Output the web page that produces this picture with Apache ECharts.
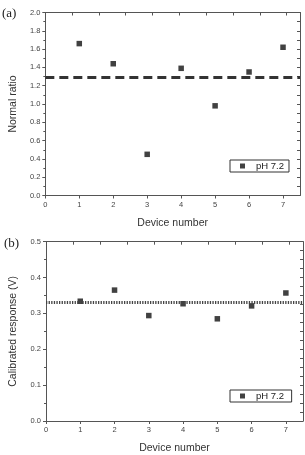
<!DOCTYPE html>
<html><head><meta charset="utf-8">
<script src="https://cdn.jsdelivr.net/npm/echarts@6/dist/echarts.min.js"></script>
<style>html,body{margin:0;padding:0;background:#fff}#c{width:305px;height:455px}</style>
</head><body><div id="c"></div>
<script>
const devices = [1, 2, 3, 4, 5, 6, 7];
const normalRatio = [1.66, 1.44, 0.45, 1.39, 0.98, 1.35, 1.62];
const normalRatioMean = 1.29;
const calibrated = [0.334, 0.365, 0.294, 0.327, 0.285, 0.321, 0.357];
const calibratedMean = 0.325;
const legendLabel = 'pH 7.2';

const chart = echarts.init(document.getElementById('c'), null, {renderer: 'canvas'});
const axisCol = '#555';
const lblStyle = {fontSize: 7.5, color: '#444', fontFamily: 'Liberation Sans'};
const nameStyle = {fontSize: 10.5, color: '#333', fontFamily: 'Liberation Sans'};

function bottomAxis(grid) {
  return {type: 'value', gridIndex: grid, min: 0, max: 7.5, interval: 1, position: 'bottom',
    name: 'Device number', nameLocation: 'middle', nameGap: 22, nameTextStyle: nameStyle,
    axisLine: {show: true, onZero: false, lineStyle: {color: axisCol, width: 1}},
    axisTick: {show: true, length: 3, inside: false, lineStyle: {color: axisCol}},
    axisLabel: Object.assign({margin: 5, showMaxLabel: false}, lblStyle),
    splitLine: {show: false}};
}
function topAxis(grid) {
  return {type: 'value', gridIndex: grid, min: 0, max: 9.5, interval: 1, position: 'top',
    axisLine: {show: true, onZero: false, lineStyle: {color: axisCol, width: 1}},
    axisTick: {show: true, length: 3, inside: true, lineStyle: {color: axisCol}},
    axisLabel: {show: false}, splitLine: {show: false}};
}
function leftAxis(grid, min, max, interval, name, gap) {
  return {type: 'value', gridIndex: grid, min: min, max: max, interval: interval, position: 'left',
    name: name, nameLocation: 'middle', nameGap: gap, nameTextStyle: nameStyle,
    axisLine: {show: true, onZero: false, lineStyle: {color: axisCol, width: 1}},
    axisTick: {show: true, length: 3, lineStyle: {color: axisCol}},
    minorTick: {show: true, splitNumber: 2, length: 2, lineStyle: {color: axisCol}},
    axisLabel: Object.assign({margin: 5, formatter: v => v.toFixed(1)}, lblStyle),
    splitLine: {show: false}};
}
function rightAxis(grid, min, max, interval) {
  return {type: 'value', gridIndex: grid, min: min, max: max, interval: interval, position: 'right',
    axisLine: {show: true, onZero: false, lineStyle: {color: axisCol, width: 1}},
    axisTick: {show: true, length: 3, inside: true, lineStyle: {color: axisCol}},
    axisLabel: {show: false}, splitLine: {show: false}};
}

chart.setOption({
  animation: false,
  backgroundColor: '#fff',
  graphic: [
    {type: 'text', left: 2, top: 7, style: {text: '(a)', fontSize: 13, fontFamily: 'Liberation Serif', fill: '#222'}},
    {type: 'text', left: 4, top: 237, style: {text: '(b)', fontSize: 13, fontFamily: 'Liberation Serif', fill: '#222'}}
  ],
  grid: [
    {left: 41, right: 5, top: 12.5, height: 183},
    {left: 44.3, right: 2, top: 241.7, height: 183.3}
  ],
  xAxis: [bottomAxis(0), topAxis(0), bottomAxis(1), topAxis(1)],
  yAxis: [
    leftAxis(0, 0, 2.0, 0.2, 'Normal ratio', 26),
    rightAxis(0, 0, 2.0, 0.1),
    leftAxis(1, 0, 0.5, 0.1, 'Calibrated response (V)', 27),
    rightAxis(1, 0, 0.5, 0.025)
  ],
  legend: [
    {data: [{name: legendLabel, icon: 'rect'}], left: 230, top: 160, width: 57,
     itemWidth: 5, itemHeight: 5, itemGap: 5, borderColor: '#333', borderWidth: 1, padding: [1, 5, 1, 10],
     textStyle: {fontSize: 9.5, color: '#222', fontFamily: 'Liberation Sans', padding: [0, 0, 0, 6]}},
    {data: [{name: legendLabel + ' ', icon: 'rect'}], left: 230, top: 390, width: 57,
     itemWidth: 5, itemHeight: 5, itemGap: 5, borderColor: '#333', borderWidth: 1, padding: [1, 5, 1, 10],
     textStyle: {fontSize: 9.5, color: '#222', fontFamily: 'Liberation Sans', padding: [0, 0, 0, 6]}}
  ],
  series: [
    {name: legendLabel, type: 'scatter', xAxisIndex: 0, yAxisIndex: 0, symbol: 'rect', symbolSize: 5.5,
     itemStyle: {color: '#111'}, data: devices.map((d, i) => [d, normalRatio[i]]),
     markLine: {silent: true, symbol: 'none', label: {show: false},
       lineStyle: {color: '#333', width: 3, type: [9, 5]}, data: [{yAxis: normalRatioMean}]}},
    {name: legendLabel + ' ', type: 'scatter', xAxisIndex: 2, yAxisIndex: 2, symbol: 'rect', symbolSize: 5.5,
     itemStyle: {color: '#111'}, data: devices.map((d, i) => [d, calibrated[i]]),
     markLine: {silent: true, symbol: 'none', label: {show: false},
       lineStyle: {color: '#444', width: 3, type: [1.3, 1.3]}, data: [{yAxis: calibratedMean}]}}
  ]
});
</script></body></html>
